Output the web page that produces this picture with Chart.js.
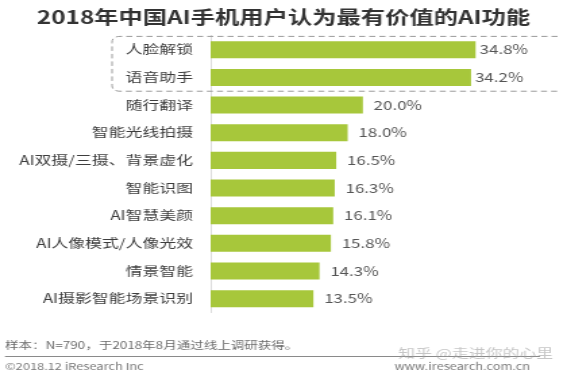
<!DOCTYPE html>
<html>
<head>
<meta charset="utf-8">
<script src="https://cdn.jsdelivr.net/npm/chart.js@4"></script>
<style>
html,body{margin:0;padding:0;background:#fff;overflow:hidden;width:567px;height:378px;}
#wrap{position:absolute;left:0;top:0;width:420px;height:378px;transform:scaleX(1.35);transform-origin:0 0;}
</style>
</head>
<body>
<div id="wrap"><canvas id="c"></canvas></div>
<script>
const categories = ['人脸解锁','语音助手','随行翻译','智能光线拍摄','AI双摄/三摄、背景虚化','智能识图','AI智慧美颜','AI人像模式/人像光效','情景智能','AI摄影智能场景识别'];
const values = [34.8, 34.2, 20.0, 18.0, 16.5, 16.3, 16.1, 15.8, 14.3, 13.5];
const valueLabels = ['34.8%','34.2%','20.0%','18.0%','16.5%','16.3%','16.1%','15.8%','14.3%','13.5%'];
const titleText = '2018年中国AI手机用户认为最有价值的AI功能';
const noteText = '样本：N=790，于2018年8月通过线上调研获得。';
const copyText = '©2018.12 iResearch Inc';
const siteText = 'www.iresearch.com.cn';
const markText = '知乎 @走进你的心里';

const FONT = '"Noto Sans CJK SC", "Noto Sans", sans-serif';

const extras = {
  id: 'extras',
  afterDatasetsDraw(chart) {
    const ctx = chart.ctx;
    const meta = chart.getDatasetMeta(0);
    const y = chart.scales.y;
    ctx.save();
    // value labels
    ctx.font = '12.5px ' + FONT;
    ctx.fillStyle = '#555';
    ctx.textBaseline = 'middle';
    ctx.textAlign = 'left';
    meta.data.forEach((bar, i) => {
      const off = i < 2 ? 3 : 8;
      ctx.fillText(valueLabels[i], bar.x + off, bar.y);
    });
    // dashed box around the top two
    const half = (y.getPixelForValue(1) - y.getPixelForValue(0)) / 2;
    const top = y.getPixelForValue(0) - half + 0.5;
    const bot = y.getPixelForValue(1) + half;
    const left = 83, right = 413, r = 6;
    ctx.strokeStyle = '#9a9a9a';
    ctx.lineWidth = 1;
    ctx.setLineDash([4.5, 3]);
    ctx.beginPath();
    ctx.moveTo(right, top);
    ctx.lineTo(left + r, top);
    ctx.quadraticCurveTo(left, top, left, top + r);
    ctx.lineTo(left, bot - r);
    ctx.quadraticCurveTo(left, bot, left + r, bot);
    ctx.lineTo(right, bot);
    ctx.stroke();
    ctx.setLineDash([]);
    // footer
    ctx.font = '10px ' + FONT;
    ctx.fillStyle = '#6a6a6a';
    ctx.textAlign = 'left';
    ctx.fillText(noteText, 3.7, 345);
    ctx.strokeStyle = '#8a8a8a';
    ctx.beginPath();
    ctx.moveTo(3.7, 356.5);
    ctx.lineTo(400, 356.5);
    ctx.stroke();
    ctx.font = '9.5px ' + FONT;
    ctx.fillStyle = '#777';
    ctx.fillText(copyText, 3.7, 366);
    ctx.textAlign = 'right';
    ctx.fillText(siteText, 392.6, 366);
    ctx.textAlign = 'left';
    ctx.font = '12.5px ' + FONT;
    ctx.fillStyle = 'rgba(160,160,160,0.6)';
    ctx.fillText(markText, 295, 353);
    ctx.restore();
  }
};

new Chart(document.getElementById('c'), {
  type: 'bar',
  data: {
    labels: categories,
    datasets: [{
      data: values,
      backgroundColor: '#a7c73b',
      borderWidth: 0,
      barPercentage: 0.615,
      categoryPercentage: 1
    }]
  },
  options: {
    indexAxis: 'y',
    responsive: true,
    maintainAspectRatio: false,
    animation: false,
    layout: { padding: { left: 0, right: 0, top: 0, bottom: 65.5 } },
    plugins: {
      legend: { display: false },
      tooltip: { enabled: false },
      title: {
        display: true,
        text: titleText,
        color: '#333',
        font: { family: FONT, size: 18, weight: 'bold', lineHeight: 1.2 },
        padding: { top: 6.7, bottom: 7.6 }
      }
    },
    scales: {
      x: { display: false, min: 0, max: 46.8 },
      y: {
        grid: { display: false, drawTicks: false },
        border: { display: true, color: '#dcdcdc', width: 1 },
        ticks: { color: '#3d3d3d', padding: 13, font: { family: FONT, size: 12.5 } },
        afterFit(s) { s.width = 156; }
      }
    }
  },
  plugins: [extras]
});
</script>
</body>
</html>
